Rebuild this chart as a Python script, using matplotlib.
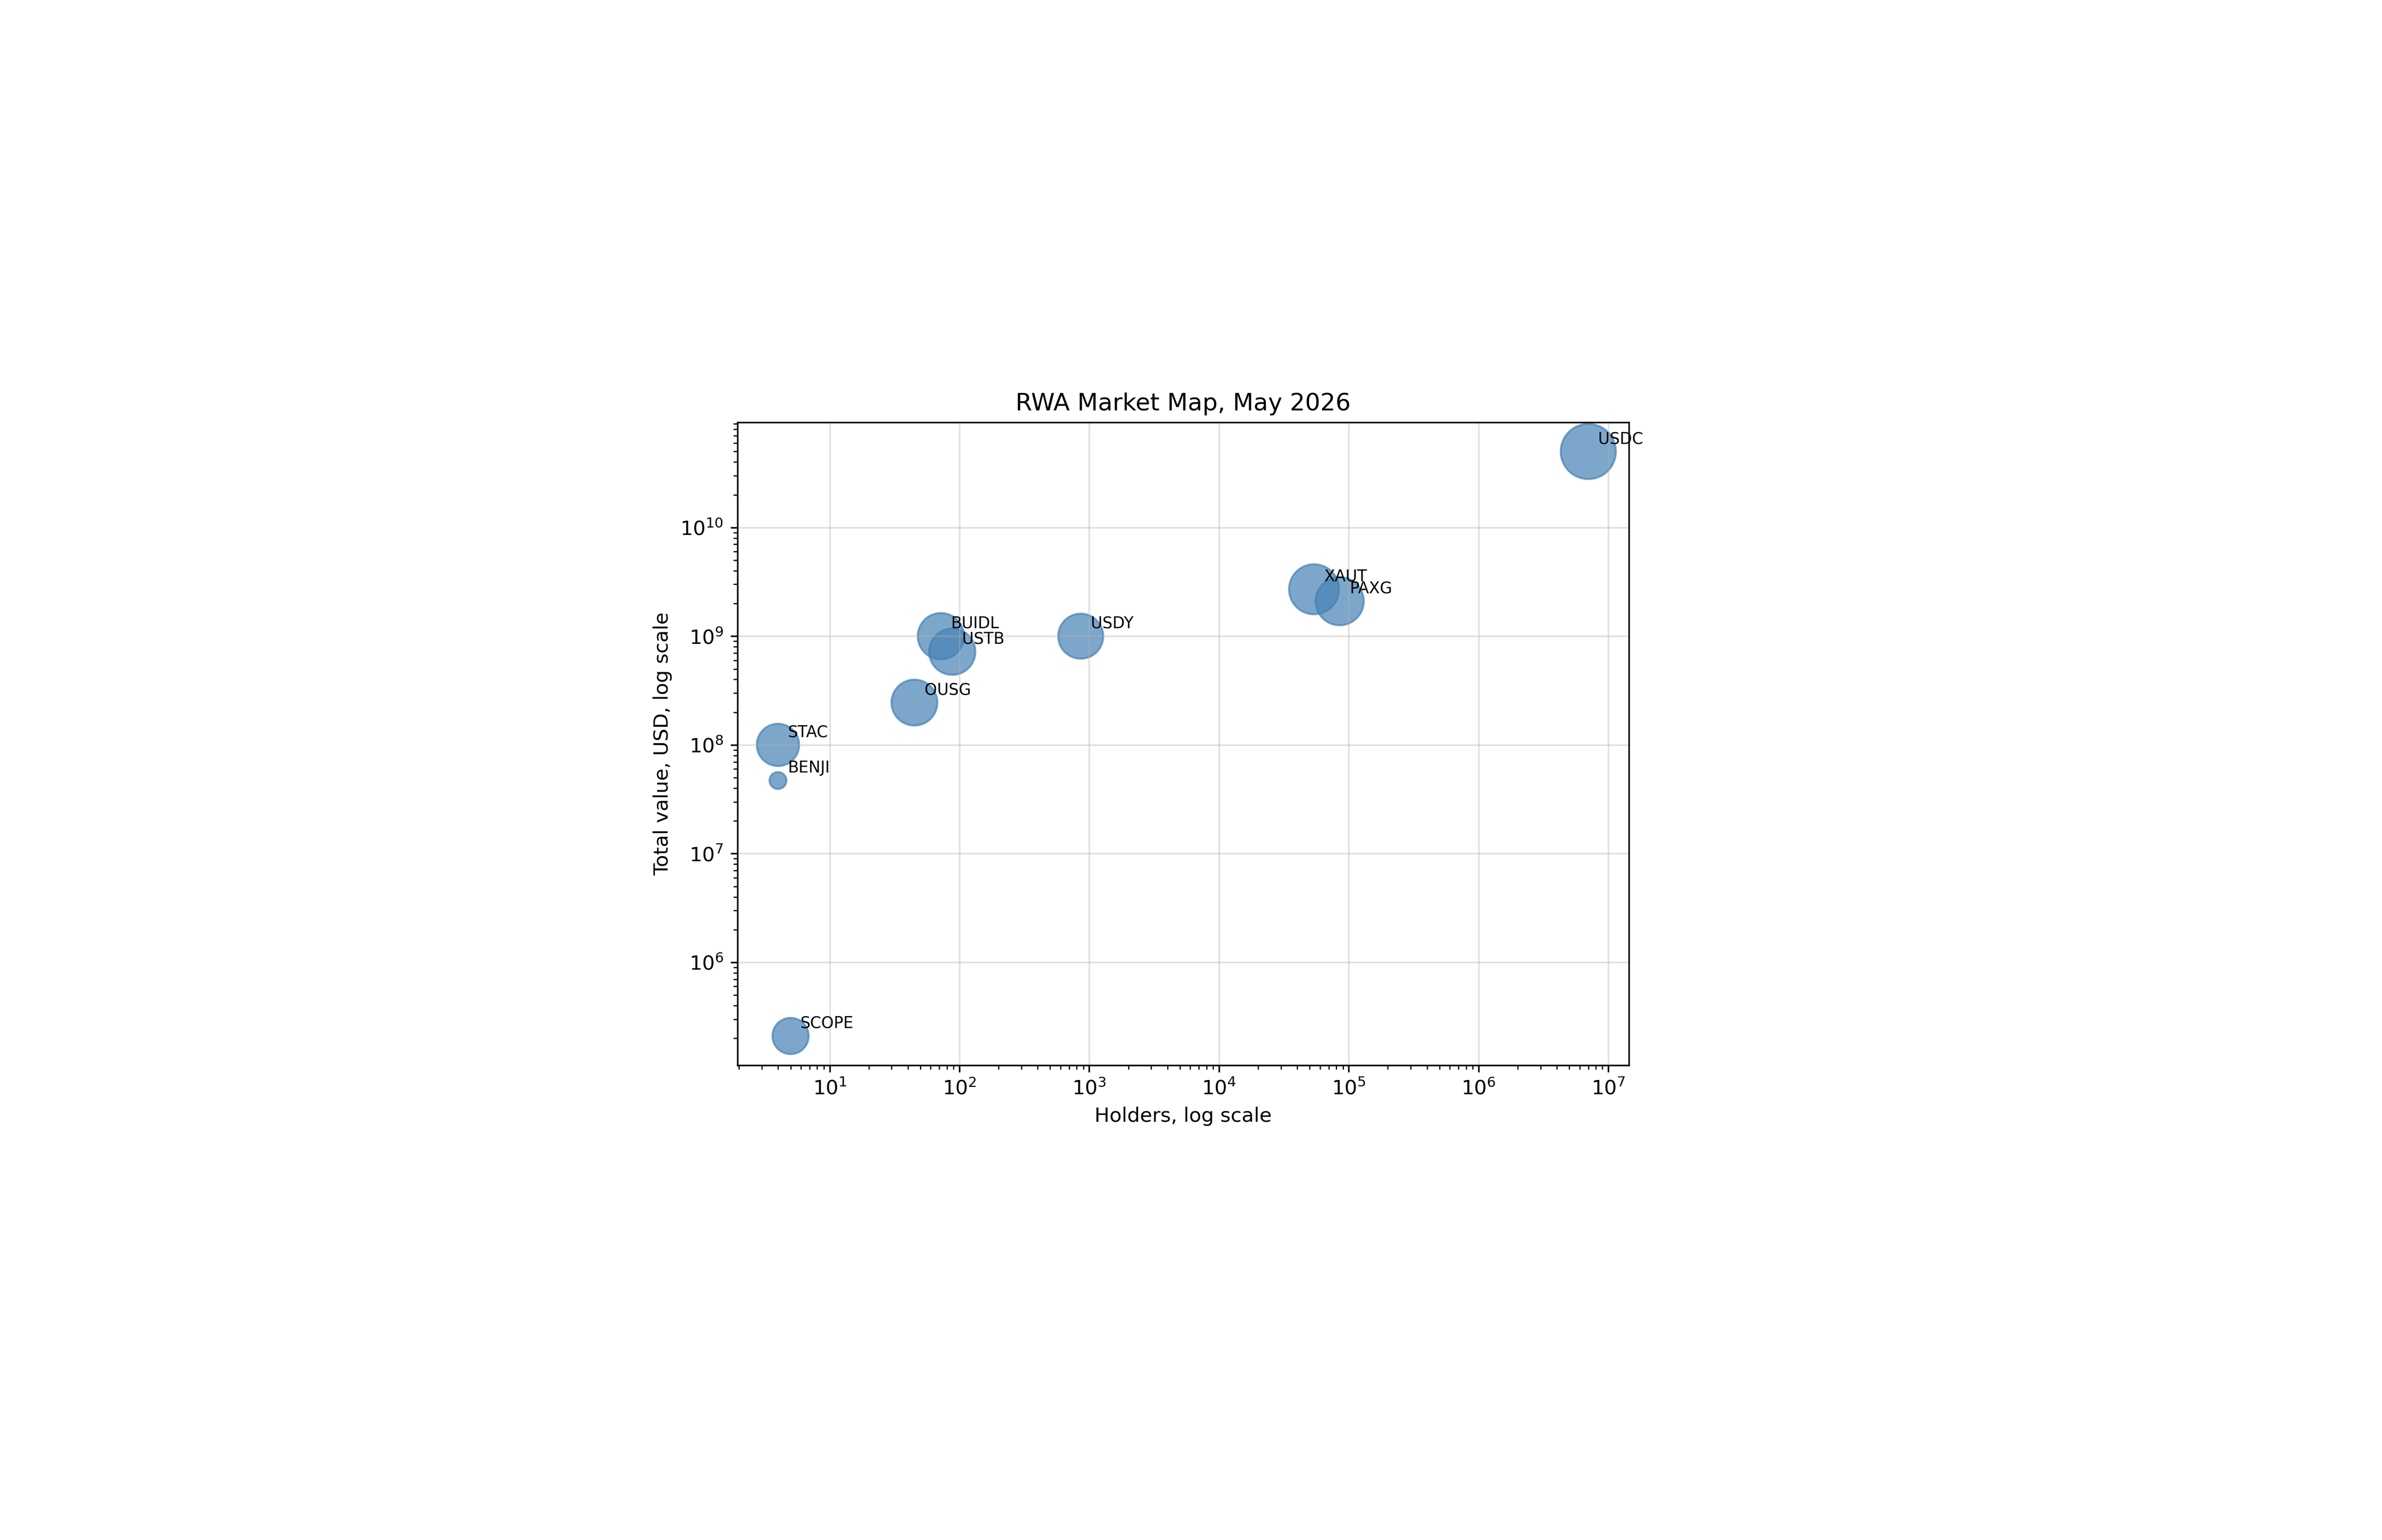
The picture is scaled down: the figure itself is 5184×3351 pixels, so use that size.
import matplotlib.pyplot as plt

# token data
tokens = ['USDC', 'XAUT', 'PAXG', 'BUIDL', 'USTB', 'USDY', 'OUSG', 'STAC', 'BENJI', 'SCOPE']
holders = [7.0e6, 54000, 85000, 72, 88, 860, 45, 4, 4, 5]
total_value = [5.0e10, 2.7e9, 2.1e9, 1.0e9, 7.2e8, 1.0e9, 2.45e8, 1.0e8, 4.7e7, 2.1e5]
bubble_size = [765, 630, 585, 540, 540, 510, 530, 450, 72, 330]

dpi = 312
fig = plt.figure(figsize=(5184 / dpi, 3351 / dpi), dpi=dpi)
ax = fig.add_axes([0.3096, 0.3083, 0.3742, 0.4175])

ax.scatter(holders, total_value, s=bubble_size, color='steelblue', alpha=0.7)
for name, x, y in zip(tokens, holders, total_value):
    ax.annotate(name, (x, y), xytext=(5, 4), textcoords='offset points', fontsize=8)

ax.set_xscale('log')
ax.set_yscale('log')
ax.set_xlabel('Holders, log scale')
ax.set_ylabel('Total value, USD, log scale')
ax.set_title('RWA Market Map, May 2026')
ax.grid(True, alpha=0.4)

fig.savefig('out.png', dpi=dpi)
